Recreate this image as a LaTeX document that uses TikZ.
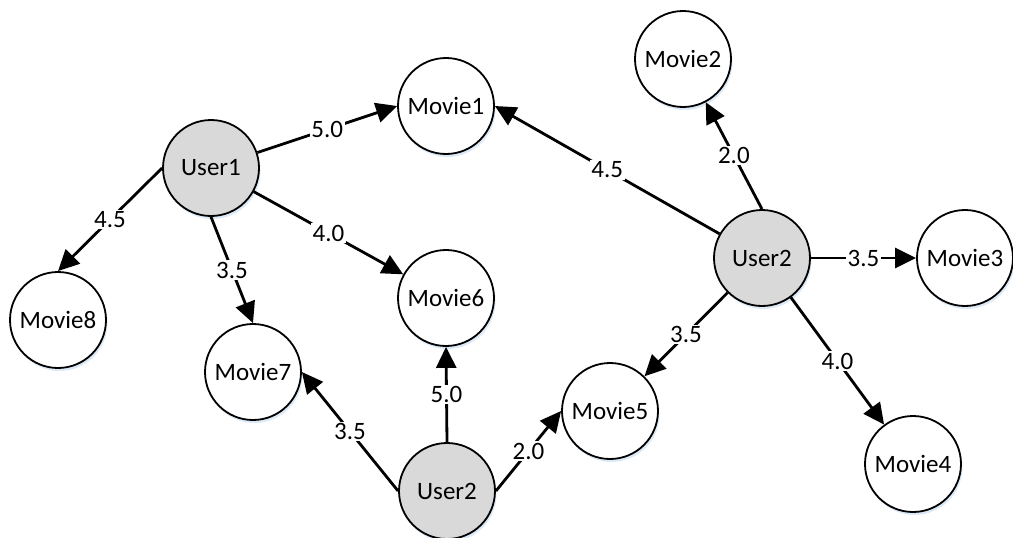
\documentclass[tikz,border=0pt]{standalone}
\usepackage{fontspec}
\setmainfont{Carlito}
\usetikzlibrary{arrows.meta,shadows}
\definecolor{userfill}{RGB}{217,217,217}
\definecolor{glow}{RGB}{205,225,245}
\tikzset{
  item/.style={circle, draw=black, line width=1.8pt, fill=white,
    minimum size=96pt, inner sep=0pt, font=\fontsize{25}{29}\selectfont,
    drop shadow={shadow xshift=1.5pt, shadow yshift=-3pt, fill=glow, opacity=0.7}},
  user/.style={item, fill=userfill},
  movie/.style={item},
  edge/.style={line width=2.8pt, -{Triangle[length=21pt,width=20pt]}},
  lbl/.style={fill=white, inner sep=1.5pt, font=\fontsize{25}{29}\selectfont}
}
\begin{document}
\begin{tikzpicture}[x=1pt, y=-1pt]
\useasboundingbox (0,0) rectangle (1013,538);
% rated movies
\node[movie] (M2) at (683,59)  {Movie2};
\node[movie] (M1) at (446,106) {Movie1};
\node[movie] (M8) at (58,320)  {Movie8};
\node[movie] (M7) at (253,372) {Movie7};
\node[movie] (M6) at (446,298) {Movie6};
\node[movie] (M3) at (965,258) {Movie3};
\node[movie] (M5) at (610,411) {Movie5};
\node[movie] (M4) at (913,464) {Movie4};
% users
\node[user] (U1) at (211,168) {User1};
\node[user] (UR) at (762,258) {User2};
\node[user] (UB) at (447,491) {User2};
% ratings of User1
\draw[edge] (U1) -- node[lbl]{5.0} (M1.west);
\draw[edge] (U1) -- node[lbl]{4.0} (M6);
\draw[edge] (U1.west) -- node[lbl]{4.5} (M8.north);
\draw[edge] (U1.south) -- node[lbl]{3.5} (M7.north);
% ratings of the right User2
\draw[edge] (UR) -- node[lbl]{4.5} (M1.east);
\draw[edge] (UR.north) -- node[lbl]{2.0} (M2);
\draw[edge] (UR.east) -- node[lbl]{3.5} (M3.west);
\draw[edge] (UR) -- node[lbl]{3.5} (M5);
\draw[edge] (UR) -- node[lbl]{4.0} (M4);
% ratings of the bottom User2
\draw[edge] (UB.west) -- node[lbl]{3.5} (M7.east);
\draw[edge] (UB.north) -- node[lbl]{5.0} (M6.south);
\draw[edge] (UB.east) -- node[lbl]{2.0} (M5.west);
\end{tikzpicture}
\end{document}
